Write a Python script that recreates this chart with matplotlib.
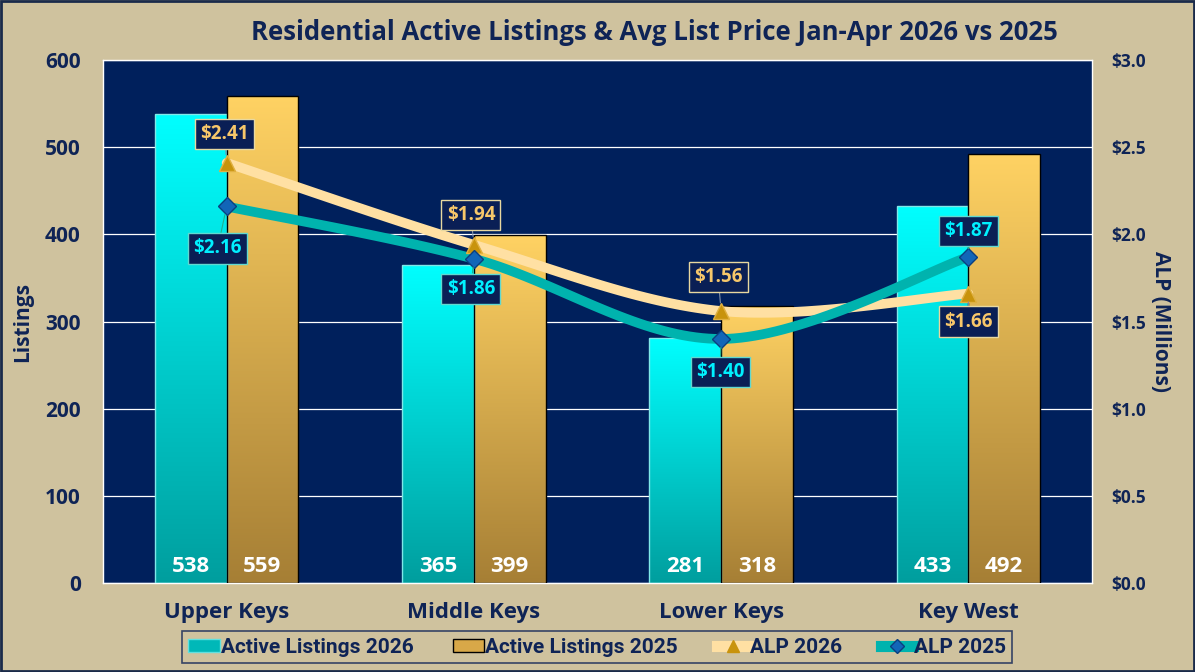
import numpy as np
import matplotlib.pyplot as plt
from matplotlib.patches import Rectangle
from matplotlib.lines import Line2D

# ── Data ──
regions = ['Upper Keys', 'Middle Keys', 'Lower Keys', 'Key West']
listings_2026 = [538, 365, 281, 433]
listings_2025 = [559, 399, 318, 492]
alp_2026 = [2.41, 1.94, 1.56, 1.66]
alp_2025 = [2.16, 1.86, 1.40, 1.87]

# label offsets (pixels) for price labels
off_2026 = [(-2, 29), (-3, 30), (-3, 34), (0, -28)]
off_2025 = [(-9, -42), (-3, -30), (-1, -33), (0, 26)]

BG = '#cfc29e'
NAVY = '#00205c'
TXT = '#0f2456'
CYAN_TXT = '#00f0ff'
GOLD_TXT = '#f7c76a'

plt.rcParams['font.family'] = ['Open Sans', 'DejaVu Sans']


def smooth(xs, ys, n=40):
    """Excel-like smoothed line (Catmull-Rom bezier)."""
    pts = np.column_stack([xs, ys]).astype(float)
    p = np.vstack([pts[0], pts, pts[-1]])
    out = []
    for i in range(1, len(p) - 2):
        p0, p1, p2, p3 = p[i - 1], p[i], p[i + 1], p[i + 2]
        c1 = p1 + (p2 - p0) / 6
        c2 = p2 - (p3 - p1) / 6
        t = np.linspace(0, 1, n)[:, None]
        seg = ((1 - t) ** 3 * p1 + 3 * (1 - t) ** 2 * t * c1
               + 3 * (1 - t) * t ** 2 * c2 + t ** 3 * p2)
        out.append(seg if i == 1 else seg[1:])
    out = np.vstack(out)
    return out[:, 0], out[:, 1]


def gradient_bar(ax, x0, w, h, top, bottom, edge):
    rect = Rectangle((x0, 0), w, h, facecolor='none', edgecolor=edge,
                     lw=1, zorder=3)
    ax.add_patch(rect)
    top = np.array(plt.matplotlib.colors.to_rgb(top))
    bottom = np.array(plt.matplotlib.colors.to_rgb(bottom))
    t = np.linspace(1, 0, 256)[:, None]
    grad = (t * top + (1 - t) * bottom)[:, None, :]
    im = ax.imshow(grad, extent=(x0, x0 + w, 0, h), aspect='auto',
                   origin='upper', zorder=2, interpolation='bilinear')
    im.set_clip_path(rect)


fig = plt.figure(figsize=(11.95, 6.72), dpi=100, facecolor=BG)
ax = fig.add_axes([0.0862, 0.1324, 0.8276, 0.7783])
ax.set_facecolor(NAVY)
ax2 = ax.twinx()
ax2.patch.set_visible(False)

x = np.arange(len(regions))
w = 0.29
for i in range(len(regions)):
    gradient_bar(ax, x[i] - w, w, listings_2026[i], '#00ffff', '#009e9e', '#7fe8e8')
    gradient_bar(ax, x[i], w, listings_2025[i], '#ffd263', '#a67f35', 'black')
    ax.annotate(f'{listings_2026[i]}', (x[i] - w / 2, 0), xytext=(0, 17),
                textcoords='offset pixels', ha='center', va='center',
                color='white', fontsize=16, fontweight='bold', zorder=5)
    ax.annotate(f'{listings_2025[i]}', (x[i] + w / 2, 0), xytext=(0, 17),
                textcoords='offset pixels', ha='center', va='center',
                color='white', fontsize=16, fontweight='bold', zorder=5)

ax.set_xlim(-0.5, 3.5)
ax.set_ylim(0, 600)
ax.set_yticks(range(0, 601, 100))
ax.grid(axis='y', color='white', lw=0.9, zorder=1)
ax.set_axisbelow(True)
ax.set_xticks(x)
ax.set_xticklabels(regions, fontsize=16, fontweight='bold', color=TXT)
ax.tick_params(axis='x', length=0, pad=14)
ax.tick_params(axis='y', length=0, pad=16, labelsize=15, labelcolor=TXT)
for lb in ax.get_yticklabels():
    lb.set_fontweight('bold')
ax.set_ylabel('Listings', fontsize=15, fontweight='bold', color=TXT)
ax.yaxis.set_label_coords(-0.0708, 0.5)
for s in ax.spines.values():
    s.set_color('white')
    s.set_linewidth(1)

# ── ALP lines ──
sx, sy = smooth(x, alp_2026)
ax2.plot(sx, sy, color='#ffe0a3', lw=7, solid_capstyle='round', zorder=4)
ax2.plot(x, alp_2026, ls='none', marker='^', ms=11, color='#c8930c',
         markeredgecolor='#e0b040', zorder=5)
sx, sy = smooth(x, alp_2025)
ax2.plot(sx, sy, color='#00b3ae', lw=7, solid_capstyle='round', zorder=4)
ax2.plot(x, alp_2025, ls='none', marker='D', ms=9, color='#1266b8',
         markeredgecolor='#0a3f80', zorder=5)

for i in range(len(regions)):
    ax2.annotate(f'${alp_2026[i]:.2f}', (x[i], alp_2026[i]), xytext=off_2026[i],
                 textcoords='offset pixels', ha='center', va='center',
                 color=GOLD_TXT, fontsize=13.5, fontweight='bold', zorder=6,
                 bbox=dict(boxstyle='square,pad=0.28', fc='#0a1f55', ec='#e8d8a0', lw=1),
                 arrowprops=dict(arrowstyle='-', color='#8090a8', lw=0.8,
                                 shrinkA=0, shrinkB=6))
    ax2.annotate(f'${alp_2025[i]:.2f}', (x[i], alp_2025[i]), xytext=off_2025[i],
                 textcoords='offset pixels', ha='center', va='center',
                 color=CYAN_TXT, fontsize=13.5, fontweight='bold', zorder=6,
                 bbox=dict(boxstyle='square,pad=0.28', fc='#0a1f55', ec='#60d8d0', lw=1),
                 arrowprops=dict(arrowstyle='-', color='#20b090', lw=0.8,
                                 shrinkA=0, shrinkB=6))

ax2.set_ylim(0, 3.0)
ax2.set_yticks(np.arange(0, 3.01, 0.5))
ax2.set_yticklabels([f'${v:.1f}' for v in np.arange(0, 3.01, 0.5)],
                    fontsize=12.5, fontweight='bold', color=TXT)
ax2.tick_params(axis='y', length=0, pad=14)
ax2.set_ylabel('ALP (Millions)', fontsize=15, fontweight='bold', color=TXT,
               rotation=270, va='center')
ax2.yaxis.set_label_coords(1.0688, 0.5)
for s in ax2.spines.values():
    s.set_visible(False)

fig.text(0.5477, 0.952, 'Residential Active Listings & Avg List Price Jan-Apr 2026 vs 2025',
         ha='center', va='center', fontsize=18.5, fontweight='bold', color=TXT)

handles = [
    Rectangle((0, 0), 1, 1, fc='#00b8b8', ec='#60e0e0'),
    Rectangle((0, 0), 1, 1, fc='#d8a848', ec='black'),
    Line2D([], [], color='#ffe0a3', lw=8, marker='^', ms=8, mfc='#c8930c', mec='#c8930c'),
    Line2D([], [], color='#00b3ae', lw=8, marker='D', ms=7, mfc='#1266b8', mec='#0a3f80'),
]
labels = ['Active Listings 2026', 'Active Listings 2025', 'ALP 2026', 'ALP 2025']
leg = fig.legend(handles, labels, loc='center', bbox_to_anchor=(0.4996, 0.0372),
                 ncol=4, frameon=True, fancybox=False, facecolor=BG, edgecolor=TXT,
                 handlelength=1.5, handleheight=0.6, handletextpad=0.05,
                 columnspacing=1.9, borderpad=0.3,
                 prop=dict(family='Roboto', weight='bold', size=15))
leg.get_frame().set_linewidth(1.2)
for t in leg.get_texts():
    t.set_color(TXT)

fig.patches.append(Rectangle((0.001, 0.001), 0.998, 0.998, transform=fig.transFigure,
                             fill=False, ec='#1a2a4a', lw=2))

plt.savefig('out.png', dpi=100, facecolor=BG)
plt.close()
